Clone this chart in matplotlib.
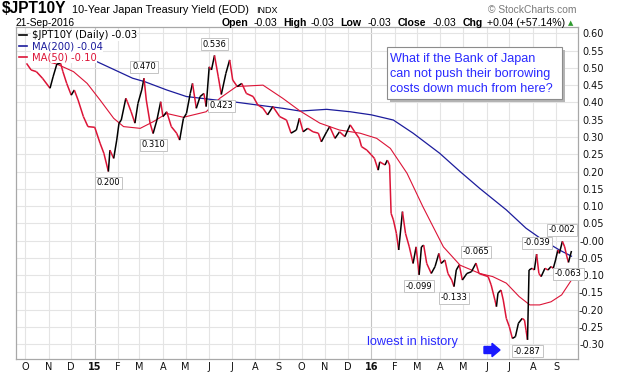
import matplotlib
matplotlib.use("Agg")
import matplotlib.pyplot as plt
import matplotlib.dates as mdates
from matplotlib.collections import LineCollection
from matplotlib.lines import Line2D
from matplotlib.patches import Rectangle, FancyArrow
from matplotlib.transforms import IdentityTransform
import numpy as np
import pandas as pd

#%% data
px_dates = ["2014-10-03", "2014-10-09", "2014-10-16", "2014-10-24", "2014-11-03", "2014-11-07",
            "2014-11-12", "2014-11-17", "2014-11-20", "2014-11-25", "2014-12-01", "2014-12-05",
            "2014-12-10", "2014-12-17", "2014-12-23", "2015-01-01", "2015-01-08", "2015-01-13",
            "2015-01-19", "2015-01-21", "2015-01-26", "2015-01-30", "2015-02-02", "2015-02-05",
            "2015-02-11", "2015-02-13", "2015-02-18", "2015-02-23", "2015-02-27", "2015-03-04",
            "2015-03-07", "2015-03-10", "2015-03-15", "2015-03-19", "2015-03-24", "2015-03-29",
            "2015-04-01", "2015-04-06", "2015-04-12", "2015-04-19", "2015-04-23", "2015-04-28",
            "2015-05-02", "2015-05-07", "2015-05-10", "2015-05-15", "2015-05-20", "2015-05-25",
            "2015-05-28", "2015-06-01", "2015-06-04", "2015-06-08", "2015-06-13", "2015-06-17",
            "2015-06-23", "2015-06-28", "2015-07-02", "2015-07-08", "2015-07-14", "2015-07-20",
            "2015-07-29", "2015-08-04", "2015-08-11", "2015-08-17", "2015-08-24", "2015-09-02",
            "2015-09-11", "2015-09-17", "2015-09-24", "2015-09-28", "2015-10-03", "2015-10-09",
            "2015-10-16", "2015-10-23", "2015-10-27", "2015-11-03", "2015-11-07", "2015-11-14",
            "2015-11-20", "2015-11-27", "2015-12-04", "2015-12-10", "2015-12-16", "2015-12-19",
            "2015-12-26", "2016-01-01", "2016-01-05", "2016-01-10", "2016-01-12", "2016-01-19",
            "2016-01-22", "2016-01-25", "2016-01-27", "2016-01-30", "2016-02-03", "2016-02-06",
            "2016-02-11", "2016-02-15", "2016-02-20", "2016-02-25", "2016-02-29", "2016-03-04",
            "2016-03-07", "2016-03-10", "2016-03-14", "2016-03-20", "2016-03-25", "2016-03-30",
            "2016-04-02", "2016-04-07", "2016-04-11", "2016-04-16", "2016-04-19", "2016-04-22",
            "2016-04-26", "2016-04-30", "2016-05-06", "2016-05-12", "2016-05-18", "2016-05-22",
            "2016-05-27", "2016-06-03", "2016-06-07", "2016-06-12", "2016-06-14", "2016-06-16",
            "2016-06-20", "2016-06-23", "2016-06-27", "2016-07-01", "2016-07-05", "2016-07-09",
            "2016-07-13", "2016-07-18", "2016-07-21", "2016-07-23", "2016-07-25", "2016-07-27",
            "2016-07-31", "2016-08-03", "2016-08-06", "2016-08-09", "2016-08-12", "2016-08-17",
            "2016-08-21", "2016-08-25", "2016-08-28", "2016-08-31", "2016-09-03", "2016-09-05",
            "2016-09-09", "2016-09-12", "2016-09-15", "2016-09-17", "2016-09-21"]
px_vals = [0.513, 0.494, 0.489, 0.470, 0.441, 0.474,
           0.511, 0.513, 0.489, 0.455, 0.421, 0.436,
           0.407, 0.359, 0.330, 0.328, 0.282, 0.253,
           0.200, 0.262, 0.238, 0.291, 0.340, 0.349,
           0.412, 0.402, 0.373, 0.340, 0.397, 0.436,
           0.470, 0.407, 0.340, 0.310, 0.349, 0.402,
           0.359, 0.373, 0.330, 0.311, 0.291, 0.354,
           0.368, 0.426, 0.455, 0.383, 0.417, 0.426,
           0.388, 0.503, 0.494, 0.536, 0.474, 0.423,
           0.484, 0.523, 0.465, 0.446, 0.455, 0.426,
           0.417, 0.393, 0.383, 0.364, 0.388, 0.359,
           0.349, 0.311, 0.320, 0.354, 0.315, 0.325,
           0.315, 0.311, 0.286, 0.315, 0.330, 0.296,
           0.315, 0.301, 0.335, 0.315, 0.296, 0.272,
           0.262, 0.248, 0.238, 0.204, 0.228, 0.219,
           0.233, 0.219, 0.079, 0.060, 0.021, -0.027,
           0.084, 0.021, -0.018, -0.066, -0.018, -0.099,
           -0.018, -0.013, -0.066, -0.095, -0.075, -0.037,
           -0.066, -0.056, -0.095, -0.114, -0.133, -0.085,
           -0.070, -0.114, -0.095, -0.090, -0.065, -0.095,
           -0.099, -0.104, -0.128, -0.172, -0.191, -0.152,
           -0.143, -0.172, -0.225, -0.249, -0.283, -0.278,
           -0.239, -0.225, -0.230, -0.259, -0.287, -0.085,
           -0.080, -0.085, -0.039, -0.095, -0.104, -0.080,
           -0.085, -0.075, -0.080, -0.056, -0.027, -0.037,
           -0.002, -0.018, -0.047, -0.063, -0.030]

ma200_dates = ["2014-12-10", "2014-12-25", "2015-02-20", "2015-03-08", "2015-04-06", "2015-05-02",
               "2015-06-10", "2015-07-02", "2015-08-02", "2015-09-06", "2015-09-29", "2015-11-03",
               "2015-12-04", "2016-01-01", "2016-01-30", "2016-02-25", "2016-03-31", "2016-04-27",
               "2016-05-23", "2016-06-27", "2016-07-23", "2016-08-14", "2016-09-05", "2016-09-21"]
ma200_vals = [0.538, 0.528, 0.470, 0.460, 0.436, 0.417,
              0.407, 0.402, 0.393, 0.383, 0.375, 0.380,
              0.373, 0.364, 0.349, 0.311, 0.253, 0.200,
              0.151, 0.089, 0.036, 0.002, -0.027, -0.045]

ma50_dates = ["2014-11-05", "2014-11-12", "2014-12-04", "2014-12-22", "2015-01-08", "2015-01-26",
              "2015-02-08", "2015-03-02", "2015-03-19", "2015-04-06", "2015-04-28", "2015-05-28",
              "2015-06-15", "2015-07-07", "2015-08-11", "2015-09-06", "2015-09-29", "2015-10-25",
              "2015-11-20", "2015-12-17", "2016-01-08", "2016-01-26", "2016-02-17", "2016-03-09",
              "2016-04-05", "2016-04-27", "2016-05-23", "2016-06-09", "2016-06-27", "2016-07-14",
              "2016-07-28", "2016-08-10", "2016-08-25", "2016-09-08", "2016-09-21"]
ma50_vals = [0.515, 0.511, 0.489, 0.455, 0.407, 0.354,
             0.330, 0.325, 0.344, 0.368, 0.357, 0.373,
             0.412, 0.446, 0.450, 0.412, 0.375, 0.340,
             0.320, 0.311, 0.296, 0.267, 0.195, 0.098,
             -0.018, -0.071, -0.095, -0.104, -0.123, -0.162,
             -0.186, -0.186, -0.177, -0.157, -0.114]

# labelled highs / lows: +1 = label above, -1 = label below
peak_dates = ["2015-01-19", "2015-03-07", "2015-03-19", "2015-06-08", "2015-06-17", "2016-03-04",
              "2016-04-19", "2016-05-18", "2016-07-25", "2016-08-06", "2016-09-09", "2016-09-17"]
peak_vals = [0.200, 0.470, 0.310, 0.536, 0.423, -0.099,
             -0.133, -0.065, -0.287, -0.039, -0.002, -0.063]
peak_side = [-1, 1, -1, 1, -1, -1, -1, 1, -1, 1, 1, -1]

month_starts = pd.date_range("2014-10-01", "2016-09-01", freq="MS")
month_labels = ["O", "N", "D", "15", "F", "M", "A", "M", "J", "J", "A", "S",
                "O", "N", "D", "16", "F", "M", "A", "M", "J", "J", "A", "S"]
y_ticks = np.round(np.arange(-0.30, 0.601, 0.05), 2)

#%% figure
W, H = 618, 375
fig = plt.figure(figsize=(W / 100, H / 100), dpi=100)
ax = fig.add_axes([16 / W, 1 - 359.3 / H, (578 - 16) / W, (359.3 - 27.3) / H])

def fx(x):
    return x / W

def fy(y):
    return 1 - y / H

red = "#dc1437"
navy = "#1c1c9c"

t = mdates.date2num(pd.to_datetime(px_dates))
v = np.array(px_vals)
pts = np.column_stack([t, v]).reshape(-1, 1, 2)
segs = np.concatenate([pts[:-1], pts[1:]], axis=1)
cols = [red if d < 0 else "black" for d in np.diff(v)]
ax.add_collection(LineCollection(segs, colors=cols, linewidths=1.1, zorder=3))

ax.plot(pd.to_datetime(ma200_dates), ma200_vals, color=navy, lw=0.9, zorder=2)
ax.plot(pd.to_datetime(ma50_dates), ma50_vals, color=red, lw=0.8, zorder=2)

for d, val, s in zip(peak_dates, peak_vals, peak_side):
    ax.annotate(f"{val:.3f}", xy=(pd.Timestamp(d), val), xytext=(0, 8.2 * s),
                textcoords="offset points", ha="center", va="center",
                fontsize=6, family="DejaVu Sans", color="black", zorder=6,
                annotation_clip=False,
                bbox=dict(boxstyle="square,pad=0.2", fc="white", ec="#c4c4c4", lw=0.7))

# axes
x0 = pd.Timestamp("2014-10-01") - pd.Timedelta(days=11.9)
x1 = pd.Timestamp("2014-10-01") + pd.Timedelta(days=729.6)
ax.set_xlim(x0, x1)
ax.set_ylim(-0.3434, 0.6174)

ax.yaxis.tick_right()
ax.set_yticks(y_ticks)
ax.set_yticklabels([f"{y:.2f}" for y in y_ticks], fontsize=7, family="DejaVu Sans")
for lab in ax.get_yticklabels():
    lab.set_ha("right")
ax.tick_params(axis="y", length=0, pad=18.7, colors="#111111")

ax.set_xticks(month_starts)
ax.set_xticklabels(month_labels, fontsize=7, family="DejaVu Sans")
for lab in ax.get_xticklabels():
    if lab.get_text() in ("15", "16"):
        lab.set_fontweight("bold")
ax.tick_params(axis="x", length=0, pad=1.8, colors="#111111")

ax.grid(True, color="#e4e4e4", lw=0.8, zorder=0)
ax.set_axisbelow(True)
for gl, lab in zip(ax.get_xgridlines(), month_labels):
    if lab in ("15", "16"):
        gl.set_color("#c4c4c4")
for sp in ax.spines.values():
    sp.set_color("#a8a8a8")
    sp.set_linewidth(0.9)

# legend
handles = [Line2D([], [], color="black", lw=1.2), Line2D([], [], color=navy, lw=1.2),
           Line2D([], [], color=red, lw=1.2)]
leg = ax.legend(handles, [r"\$JPT10Y (Daily) -0.03", "MA(200) -0.04", "MA(50) -0.10"],
                loc="upper left", frameon=False, prop={"family": "DejaVu Sans", "size": 7.2},
                handlelength=0.8, handletextpad=0.45, labelspacing=0.12,
                borderaxespad=0.1, borderpad=0.2, labelcolor=["black", navy, red])
for txt in leg.get_texts():
    txt.set_bbox(dict(fc="white", ec="none", pad=0.6))
leg.set_zorder(7)

# header
fig.text(fx(2), fy(13), r"\$JPT10Y", fontsize=11.2, fontweight="bold", family="Liberation Sans")
fig.text(fx(72), fy(13), "10-Year Japan Treasury Yield (EOD)", fontsize=7.8, family="Liberation Sans")
fig.text(fx(256), fy(13), "INDX", fontsize=6.5, family="Liberation Sans")
fig.text(fx(488), fy(13), "\u00a9 StockCharts.com", fontsize=7.4, family="Liberation Sans",
         color="#7a7a7a")
fig.text(fx(16), fy(26), "21-Sep-2016", fontsize=7.4, family="Liberation Sans")

row2 = [("Open", 221.7, True), ("-0.03", 253.3, False), ("High", 283.3, True),
        ("-0.03", 310.7, False), ("Low", 340.7, True), ("-0.03", 367.7, False),
        ("Close", 397.7, True), ("-0.03", 432.7, False), ("Chg", 462.7, True),
        ("+0.04 (+57.14%)", 486.7, False)]
for s, xp, b in row2:
    fig.text(fx(xp), fy(26), s, fontsize=7.6, family="Liberation Sans",
             fontweight="bold" if b else "normal")
fig.text(fx(568), fy(25.5), "\u25b2", fontsize=5, family="DejaVu Sans", color="#2e9a2e")

# comment box with shadow
fig.add_artist(Rectangle((fx(390.3), fy(102.3)), (562 - 387.3) / W, (99.3 - 46.7) / H,
                         transform=fig.transFigure, fc="#b4b4b4", ec="none", zorder=8))
fig.add_artist(Rectangle((fx(387.3), fy(99.3)), (562 - 387.3) / W, (99.3 - 46.7) / H,
                         transform=fig.transFigure, fc="white", ec="#8c8c8c", lw=0.8, zorder=9))
blue = "#2a2aff"
for line, yb in zip(["What if the Bank of Japan", "can not push their borrowing",
                     "costs down much from here?"], [61.7, 76.5, 92.0]):
    fig.text(fx(390), fy(yb), line, fontsize=9.1, family="Liberation Sans", color=blue, zorder=10)

fig.text(fx(367), fy(345.5), "lowest in history", fontsize=9.2, family="Liberation Sans",
         color=blue, zorder=10)
fig.add_artist(FancyArrow(484, H - 350, 16, 0, width=7, head_width=13.4, head_length=8,
                          length_includes_head=True, transform=IdentityTransform(),
                          color="#1a1aff", zorder=10))

fig.savefig("out.png", dpi=100)
